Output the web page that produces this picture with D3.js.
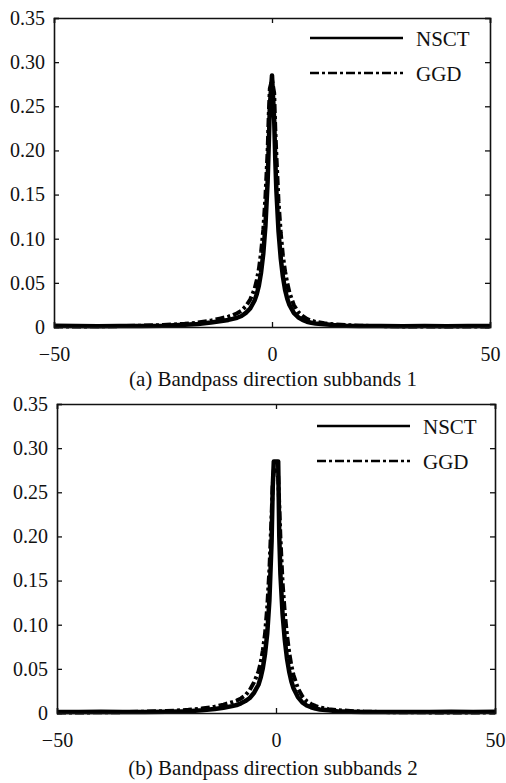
<!DOCTYPE html>
<html>
<head>
<meta charset="utf-8">
<script src="https://cdn.jsdelivr.net/npm/d3@7"></script>
<style>
  body { margin: 0; background: #fff; }
  svg text { font-family: "Liberation Serif", "Times New Roman", serif; fill: #111; }
</style>
</head>
<body>
<svg id="chart" width="506" height="783"></svg>
<script>
// shared x grid (coefficient value)
var xGrid = [-50,-45,-40,-35,-30,-25,-20,-17,-14,-12,-10,-9,-8,-7,-6,-5,-4,-3.5,-3,-2.5,-2,-1.5,-1,-0.75,-0.5,
  0,0.5,0.75,1,1.5,2,2.5,3,3.5,4,5,6,7,8,9,10,12,14,17,20,25,30,35,40,45,50];

// (a) subband 1
var nsctA = [.0015,.001,.0008,.001,.0012,.0015,.0025,.0035,.005,.0065,.008,.0092,.0105,.0125,.016,.021,.03,.037,.047,.062,.083,.115,.165,.205,.25,
  .285,.235,.19,.155,.108,.078,.057,.042,.032,.025,.016,.011,.008,.006,.0048,.004,.003,.0022,.0015,.0012,.001,.0009,.001,.0008,.001,.0012];
var ggdA = [.0005,.0006,.0008,.001,.0015,.0022,.0036,.005,.0072,.0095,.0118,.0135,.0155,.0185,.0235,.031,.043,.053,.066,.085,.11,.148,.2,.24,.27,
  .28,.265,.225,.195,.142,.107,.081,.063,.05,.039,.025,.017,.0125,.0092,.0072,.0058,.0042,.0031,.0022,.0015,.001,.0007,.0006,.0005,.0005,.0005];

// (b) subband 2
var nsctB = [.0012,.001,.0015,.001,.0012,.0015,.002,.003,.0045,.006,.0078,.009,.011,.0135,.017,.023,.032,.04,.051,.067,.09,.128,.195,.255,.285,
  .285,.285,.2,.158,.112,.083,.062,.047,.036,.028,.018,.012,.0085,.0065,.005,.004,.003,.002,.0015,.0012,.001,.0012,.001,.0015,.0012,.0015];
var ggdB = [.0005,.0006,.0008,.001,.0015,.0022,.0036,.005,.0072,.0095,.0122,.014,.0165,.02,.026,.035,.047,.057,.071,.09,.12,.163,.225,.258,.275,
  .278,.268,.235,.2,.148,.114,.089,.069,.054,.043,.028,.019,.0135,.0102,.008,.0064,.0044,.0033,.0023,.0016,.001,.0008,.0007,.0006,.0005,.0005];

var yTicks = [0, 0.05, 0.10, 0.15, 0.20, 0.25, 0.30, 0.35];
var xTicks = [-50, 0, 50];
var seriesNames = ["NSCT", "GGD"];

var svg = d3.select("#chart");

var panels = [
  {left: 54, right: 490, top: 18, bottom: 327, nsct: nsctA, ggd: ggdA,
   caption: "(a) Bandpass direction subbands 1", capY: 386, legX: 310, legY: 38},
  {left: 57, right: 495, top: 404, bottom: 713, nsct: nsctB, ggd: ggdB,
   caption: "(b) Bandpass direction subbands 2", capY: 775, legX: 317, legY: 426}
];

panels.forEach(function(p) {
  var x = d3.scaleLinear().domain([-50, 50]).range([p.left, p.right]);
  var y = d3.scaleLinear().domain([0, 0.35]).range([p.bottom, p.top]);
  var g = svg.append("g");

  var line = d3.line()
    .x(function(d, i) { return x(xGrid[i]); })
    .y(function(d) { return y(d); });

  g.append("path").datum(p.nsct)
    .attr("d", line)
    .attr("fill", "none").attr("stroke", "#000")
    .attr("stroke-width", 4.5).attr("stroke-linejoin", "round");
  g.append("path").datum(p.ggd)
    .attr("d", line)
    .attr("fill", "none").attr("stroke", "#000")
    .attr("stroke-width", 4)
    .attr("stroke-dasharray", "9,3,3,3");

  // axes with inward ticks
  var yFmt = function(d) { return d === 0 ? "0" : d3.format(".2f")(d); };
  g.append("g").attr("transform", "translate(" + p.left + ",0)")
    .call(d3.axisLeft(y).tickValues(yTicks).tickSize(-5).tickPadding(9).tickFormat(yFmt));
  g.append("g").attr("transform", "translate(" + p.right + ",0)")
    .call(d3.axisRight(y).tickValues(yTicks).tickSize(-5).tickFormat(""));
  g.append("g").attr("transform", "translate(0," + p.bottom + ")")
    .call(d3.axisBottom(x).tickValues(xTicks).tickSize(-5).tickPadding(20));
  g.append("g").attr("transform", "translate(0," + p.top + ")")
    .call(d3.axisTop(x).tickValues(xTicks).tickSize(-5).tickFormat(""));

  g.selectAll(".domain").attr("stroke", "#111").attr("stroke-width", 1.6);
  g.selectAll(".tick line").attr("stroke", "#111").attr("stroke-width", 1.3);
  g.selectAll(".tick text").attr("font-size", 20).attr("fill", "#111")
    .style("font-family", "'Liberation Serif', serif");

  // legend
  var leg = g.append("g");
  seriesNames.forEach(function(name, i) {
    var ly = p.legY + i * 35;
    leg.append("line")
      .attr("x1", p.legX).attr("x2", p.legX + 93)
      .attr("y1", ly).attr("y2", ly)
      .attr("stroke", "#000").attr("stroke-width", 2.6)
      .attr("stroke-dasharray", i === 1 ? "9,3,3,3" : null);
    leg.append("text")
      .attr("x", p.legX + 106).attr("y", ly + 8)
      .attr("font-size", 21)
      .text(name);
  });

  svg.append("text")
    .attr("x", 273).attr("y", p.capY)
    .attr("text-anchor", "middle")
    .attr("font-size", 21)
    .text(p.caption);
});
</script>
</body>
</html>
